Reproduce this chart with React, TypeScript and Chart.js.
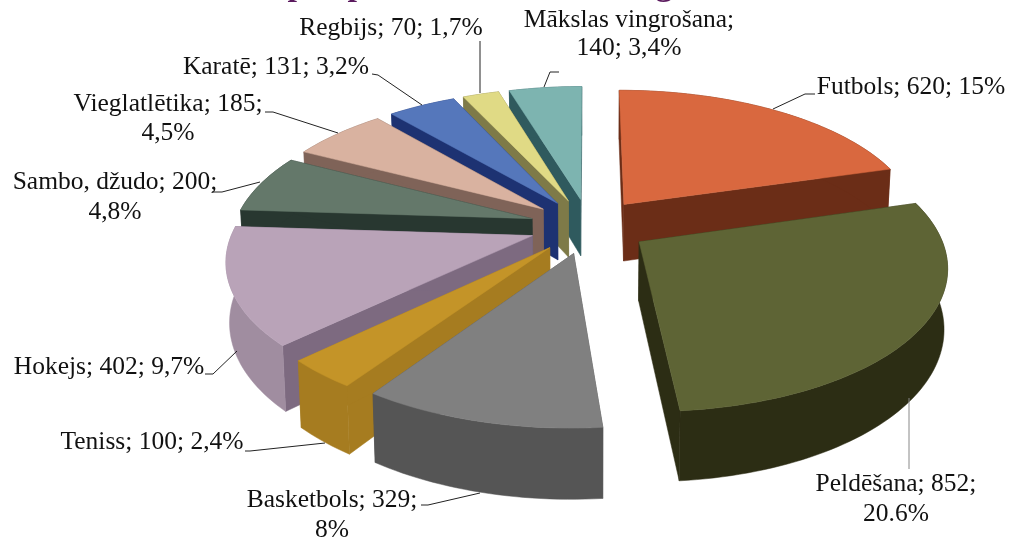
import React, { useEffect, useRef } from "react";
import { Chart, registerables } from "chart.js";

Chart.register(...registerables);

const categories = ["Futbols", "Peldēšana", "Basketbols", "Teniss", "Hokejs", "Sambo, džudo", "Vieglatlētika", "Karatē", "Regbijs", "Mākslas vingrošana"];
const counts = [620, 852, 329, 100, 402, 200, 185, 131, 70, 140];
const shares = ["15%", "20.6%", "8%", "2,4%", "9,7%", "4,8%", "4,5%", "3,2%", "1,7%", "3,4%"];
const topColors = ["#d9683f", "#5e6435", "#808080", "#c49428", "#b9a3b8", "#64786a", "#d9b2a0", "#5577bb", "#e0da85", "#7db4b0"];
const radialWallColors = ["#6b2d17", "#2c2d14", "#555555", "#a67c20", "#7d6a80", "#283730", "#7f6358", "#1d3272", "#7e7a48", "#2f5a5e"];
const rimWallColors = ["#6b2d17", "#2c2d14", "#555555", "#a67c20", "#a08da0", "#283730", "#7f6358", "#1d3272", "#7e7a48", "#2f5a5e"];

// The title is cut off by the top of the picture: only these descenders show.
const titleGlyphs = [["p", 297], ["p", 357], ["g", 664]];

// Text layout: [text, centre x, middle y] per line, in the order of `categories`.
const labelLines = [
  [[`Futbols; ${counts[0]}; ${shares[0]}`, 911, 87]],
  [[`Peldēšana; ${counts[1]};`, 896, 484], [shares[1], 896, 514]],
  [[`Basketbols; ${counts[2]};`, 332, 500], [shares[2], 332, 530]],
  [[`Teniss; ${counts[3]}; ${shares[3]}`, 152, 442]],
  [[`Hokejs; ${counts[4]}; ${shares[4]}`, 109, 367]],
  [[`Sambo, džudo; ${counts[5]};`, 115, 182], [shares[5], 115, 212]],
  [[`Vieglatlētika; ${counts[6]};`, 168, 104], [shares[6], 168, 133]],
  [[`Karatē; ${counts[7]}; ${shares[7]}`, 276, 67]],
  [[`Regbijs; ${counts[8]}; ${shares[8]}`, 391, 28]],
  [["Mākslas vingrošana;", 629, 20], [`${counts[9]}; ${shares[9]}`, 629, 48]],
];
const leaders = [
  [[815, 94], [805, 94], [773, 109]],
  [[909, 469], [909, 398]],
  [[421, 505], [428, 505], [480, 493]],
  [[245, 451], [250, 451], [325, 443]],
  [[205, 374], [213, 374], [237, 351]],
  [[212, 192], [222, 192], [260, 182]],
  [[265, 112], [273, 112], [338, 133]],
  [[372, 74], [378, 75], [422, 105]],
  [[480, 41], [480, 93]],
  [[559, 72], [550, 72], [544, 87]],
];

const CX = 589, CY = 226, A = 298, B = 138, P = 0.155, DEPTH = 58, EXPLODE = 0.2;

function project(x: number, y: number, bottom: boolean): [number, number] {
  const w = 1 / (1 - P * y);
  const sx = CX + A * x * w * (bottom ? 0.99 : 1);
  const sy = CY + B * y * w + (bottom ? DEPTH * w : 0);
  return [sx, sy];
}

const piePainter = {
  id: "pie3dPainter",
  beforeDatasetsDraw(chart: any) {
    const { ctx } = chart;
    const arcs = chart.getDatasetMeta(0).data as any[];
    const slices = arcs.map((arc, i) => {
      const p = arc.getProps(["startAngle", "endAngle"], true);
      const mid = (p.startAngle + p.endAngle) / 2;
      const ox = Math.cos(mid) * EXPLODE, oy = Math.sin(mid) * EXPLODE;
      const n = Math.max(4, Math.ceil((p.endAngle - p.startAngle) * 40));
      const rim: [number, number][] = [];
      for (let k = 0; k <= n; k++) {
        const a = p.startAngle + ((p.endAngle - p.startAngle) * k) / n;
        rim.push([ox + Math.cos(a), oy + Math.sin(a)]);
      }
      return { i, ox, oy, rim, key: oy };
    });
    const poly = (pts: [number, number][], fill: string) => {
      ctx.beginPath();
      pts.forEach((q, k) => (k ? ctx.lineTo(q[0], q[1]) : ctx.moveTo(q[0], q[1])));
      ctx.closePath();
      ctx.fillStyle = fill;
      ctx.strokeStyle = fill;
      ctx.lineWidth = 0.5;
      ctx.fill();
      ctx.stroke();
    };
    [...slices].sort((a, b) => a.key - b.key).forEach((s) => {
      const apexT = project(s.ox, s.oy, false), apexB = project(s.ox, s.oy, true);
      const first = s.rim[0], last = s.rim[s.rim.length - 1];
      poly([apexT, project(first[0], first[1], false), project(first[0], first[1], true), apexB], radialWallColors[s.i]);
      poly([apexT, project(last[0], last[1], false), project(last[0], last[1], true), apexB], radialWallColors[s.i]);
      const topRim = s.rim.map((q) => project(q[0], q[1], false));
      const botRim = s.rim.map((q) => project(q[0], q[1], true));
      poly([...topRim, ...botRim.reverse()], rimWallColors[s.i]);
      poly([apexT, ...topRim], topColors[s.i]);
    });
    return false;
  },
  afterDraw(chart: any) {
    const { ctx } = chart;
    ctx.save();
    ctx.fillStyle = "#111111";
    ctx.font = '25.5px "Liberation Serif"';
    ctx.textAlign = "center";
    ctx.textBaseline = "middle";
    labelLines.forEach((lines) => lines.forEach((l: any) => ctx.fillText(l[0], l[1], l[2])));
    leaders.forEach((pts, i) => {
      ctx.beginPath();
      pts.forEach((q, k) => (k ? ctx.lineTo(q[0], q[1]) : ctx.moveTo(q[0], q[1])));
      ctx.strokeStyle = i === 1 ? "#888888" : "#222222";
      ctx.lineWidth = 1;
      ctx.stroke();
    });
    ctx.fillStyle = "#5b1a5e";
    ctx.font = 'bold 34px "Liberation Serif"';
    ctx.textBaseline = "alphabetic";
    titleGlyphs.forEach((g: any) => ctx.fillText(g[0], g[1], -5));
    ctx.restore();
  },
};

export default function App() {
  const ref = useRef<HTMLCanvasElement>(null);
  useEffect(() => {
    document.body.style.margin = "0";
    const chart = new Chart(ref.current!, {
      type: "pie",
      data: { labels: categories, datasets: [{ data: counts, backgroundColor: topColors }] },
      options: {
        animation: false,
        responsive: false,
        plugins: { legend: { display: false }, tooltip: { enabled: false } },
      },
      plugins: [piePainter],
    } as any);
    return () => chart.destroy();
  }, []);
  return <canvas ref={ref} width={1026} height={539} style={{ display: "block", background: "#ffffff" }} />;
}
